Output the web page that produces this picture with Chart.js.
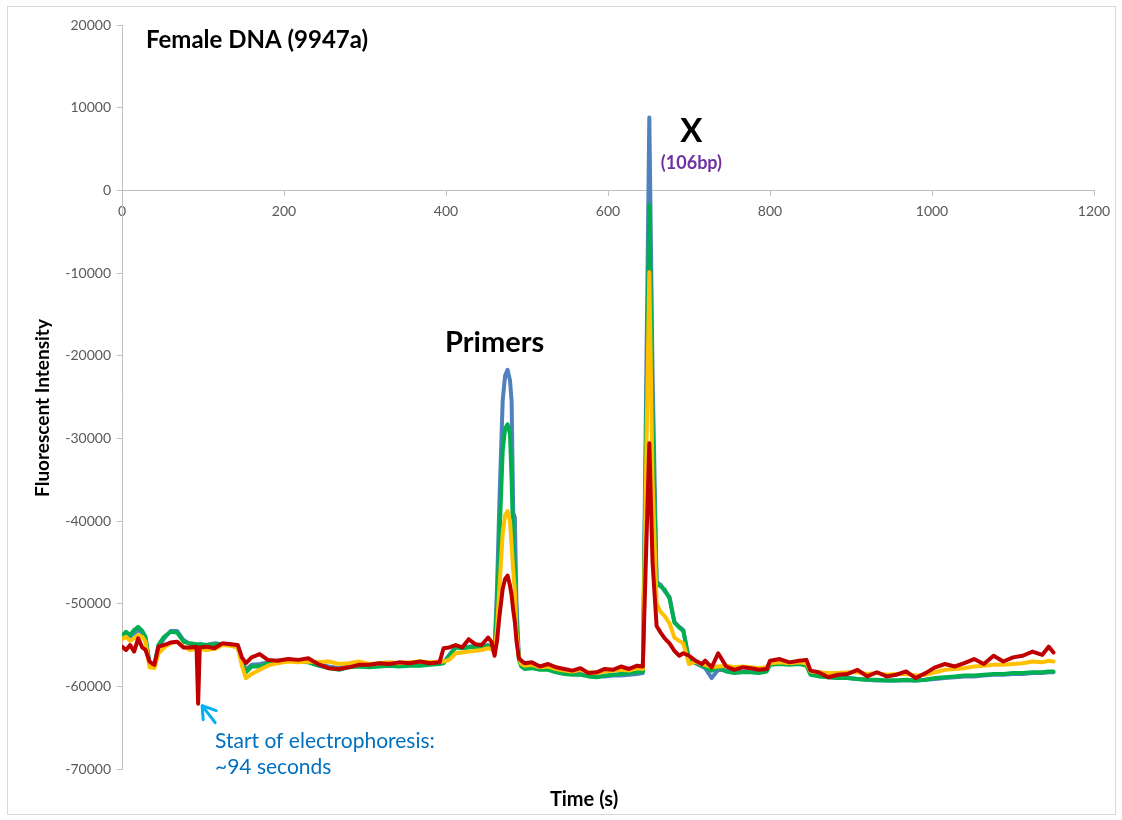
<!DOCTYPE html>
<html>
<head>
<meta charset="utf-8">
<script src="https://cdn.jsdelivr.net/npm/chart.js@4.4.1/dist/chart.umd.min.js"></script>
<style>
  body { margin: 0; background: #fff; }
</style>
</head>
<body>
<canvas id="myChart" width="1122" height="820"></canvas>
<script>
  // time in seconds, shared by all four traces
  let time = [
    0, 5, 10, 15, 20, 25, 29, 34, 40, 45, 52, 60, 68, 76, 84, 92, 94, 96, 104, 114, 124, 134, 143, 148, 153, 160,
    170, 180, 192, 205, 218, 230, 242, 255, 268, 280, 292, 305, 318, 330, 342, 355, 368, 380, 392, 397,
    404, 412, 420, 428, 436, 444, 452, 456, 460, 463, 466, 470, 473, 476, 479, 481, 483, 485, 487, 490, 493, 497,
    506, 516, 526, 536, 546, 556, 566, 576, 586, 596, 606, 616, 626, 636, 643,
    647, 651, 655, 660, 665, 670, 676, 682, 688, 693, 700, 708, 716, 720, 728, 736,
    746, 756, 766, 776, 786, 796, 800, 812, 824, 836, 845, 850, 860, 872, 884, 896, 908, 920, 932, 944, 956, 968, 980, 992,
    1004, 1016, 1028, 1040, 1052, 1064, 1076, 1088, 1100, 1112, 1124, 1136, 1144, 1150
  ];
  let red = [
    -55200, -55600, -55000, -55800, -54200, -55300, -55600, -57000, -57400, -55200, -55000, -54700, -54600, -55300, -55300, -55200, -62100, -55300, -55200, -55400, -54800, -54900, -55000, -56500, -57200, -56500,
    -56100, -56800, -56900, -56700, -56800, -56600, -57300, -57800, -57900, -57700, -57400, -57400, -57200, -57300, -57100, -57200, -57000, -57200, -57100, -55400,
    -55300, -55000, -55300, -54300, -54900, -55000, -54100, -54600, -56300, -54500, -51500, -48200, -47000, -46600, -47800, -49000, -50800, -52200, -54500, -56600, -56900, -57200,
    -57100, -57600, -57300, -57700, -57900, -58100, -57800, -58400, -58300, -57900, -58000, -57600, -57900, -57500, -57600,
    -44000, -30600, -45000, -52700, -53500, -54200, -54800, -55700, -56300, -56000, -56300, -56900, -57300, -56900, -57700, -56000,
    -57600, -58000, -57700, -57800, -58000, -57900, -56900, -56700, -57100, -56900, -56800, -58100, -58300, -58900, -58600, -58500, -58000, -58800, -58300, -58800, -58600, -58200, -59000, -58400,
    -57700, -57300, -57600, -57200, -56700, -57300, -56300, -57000, -56500, -56300, -55800, -56200, -55200, -55900
  ];
  let yellow = [
    -54300, -54000, -54500, -54200, -53800, -54000, -54600, -57700, -57800, -56000, -55300, -54800, -54600, -55200, -55600, -55500, -55600, -55500, -55600, -55500, -55000, -55100, -55300, -57500, -59000, -58500,
    -58000, -57500, -57200, -57000, -57100, -57000, -57100, -57000, -57300, -57200, -57000, -57300, -57200, -57100, -57200, -57100, -57000, -57100, -57000, -57000,
    -56800, -56000, -55900, -55800, -55700, -55600, -55400, -55500, -55900, -53000, -48000, -41500, -39300, -38800, -40000, -43000, -46000, -48500, -53500, -56500, -57300, -57500,
    -57400, -57700, -57600, -57900, -58100, -58200, -58000, -58300, -58400, -58200, -58100, -58000, -58100, -57800, -57900,
    -34000, -9900, -35000, -50000, -51000, -51500, -52400, -54100, -54500, -54800, -57300, -57000, -57300, -57400, -57700, -57600,
    -57500, -57700, -57600, -57700, -57800, -57700, -57200, -57100, -57200, -57100, -57200, -58200, -58300, -58400, -58400, -58300, -58300, -58500, -58400, -58600, -58500, -58500, -58700, -58600,
    -58300, -58000, -57900, -57800, -57600, -57500, -57400, -57400, -57300, -57200, -57000, -57100, -56900, -57000
  ];
  let green = [
    -53900, -53400, -53800, -53200, -52800, -53300, -54000, -57200, -57400, -55000, -54000, -53400, -53500, -54600, -54800, -54900, -55000, -54900, -55000, -54900, -54900, -55000, -55300, -57000, -58300, -57600,
    -57600, -57200, -57000, -56900, -57000, -57100, -57500, -57800, -58000, -57700, -57600, -57700, -57600, -57500, -57600, -57500, -57500, -57400, -57300, -57200,
    -56300, -55300, -55400, -55300, -55200, -55300, -55100, -55300, -55500, -50000, -42000, -31500, -28800, -28300, -29500, -35000, -42500, -45500, -52000, -56800, -57600, -57900,
    -57800, -58000, -58000, -58300, -58500, -58600, -58600, -58800, -58900, -58700, -58600, -58500, -58400, -58300, -58200,
    -30000, -1800, -28000, -47600, -47900, -48300, -49400, -52300, -52900, -53300, -56900, -57100, -57500, -57700, -58100, -57700,
    -58200, -58400, -58300, -58300, -58400, -58200, -57400, -57300, -57400, -57300, -57500, -58600, -58800, -58900, -59000, -59000, -59100, -59200, -59200, -59300, -59300, -59200, -59300, -59200,
    -59000, -58900, -58800, -58700, -58700, -58600, -58500, -58500, -58400, -58400, -58300, -58300, -58200, -58200
  ];
  let blue = [
    -54000, -53700, -54000, -53600, -53200, -53500, -54200, -57300, -57500, -55300, -54200, -53300, -53300, -54400, -54900, -54900, -55000, -54900, -55000, -54800, -54900, -54900, -55200, -56900, -58000, -57400,
    -57300, -57100, -56900, -56800, -56900, -56900, -57300, -57600, -57800, -57600, -57500, -57600, -57400, -57400, -57500, -57400, -57300, -57300, -57200, -57100,
    -56200, -55200, -55300, -55200, -55100, -55200, -55000, -55300, -55700, -48000, -37500, -25400, -22400, -21700, -23000, -25500, -39000, -39600, -50000, -56500, -57300, -57700,
    -57600, -57900, -57900, -58200, -58400, -58500, -58500, -58700, -58800, -58800, -58700, -58700, -58600, -58500, -58400,
    -25000, 8800, -22000, -47400, -47700, -48500, -49200, -52200, -52800, -53200, -56800, -57200, -57600, -57800, -59000, -58000,
    -58100, -58300, -58200, -58200, -58300, -58100, -57300, -57200, -57300, -57200, -57400, -58500, -58700, -58900, -59000, -59000, -59100, -59200, -59300, -59300, -59300, -59300, -59300, -59200,
    -59100, -59000, -58900, -58800, -58800, -58700, -58600, -58600, -58500, -58500, -58400, -58400, -58300, -58300
  ];
  let xTicks = [0, 200, 400, 600, 800, 1000, 1200];
  let yTicks = [20000, 10000, 0, -10000, -20000, -30000, -40000, -50000, -60000, -70000];

  const font = 'Lato, "Liberation Sans", sans-serif';

  function points(values) {
    return values.map((v, i) => ({x: time[i], y: v}));
  }
  function trace(label, values, color) {
    return {
      label: label,
      data: points(values),
      borderColor: color,
      backgroundColor: color,
      borderWidth: 4,
      pointRadius: 0,
      tension: 0,
      borderJoinStyle: 'round',
      borderCapStyle: 'round',
      fill: false
    };
  }

  const decor = {
    id: 'decor',
    beforeDraw(chart) {
      const ctx = chart.ctx;
      ctx.save();
      ctx.fillStyle = '#fff';
      ctx.fillRect(0, 0, chart.width, chart.height);
      ctx.strokeStyle = '#D9D9D9';
      ctx.lineWidth = 1;
      ctx.strokeRect(7.5, 6.5, 1108, 808);
      ctx.restore();
    },
    afterDraw(chart) {
      const ctx = chart.ctx;
      const x = chart.scales.x, y = chart.scales.y;
      ctx.save();
      ctx.textBaseline = 'alphabetic';

      ctx.fillStyle = '#000';
      ctx.textAlign = 'left';
      ctx.font = 'bold 24px ' + font;
      ctx.fillText('Female DNA (9947a)', 146, 48);

      ctx.textAlign = 'center';
      ctx.font = 'bold 29px ' + font;
      ctx.fillText('Primers', x.getPixelForValue(460), y.getPixelForValue(-19500));

      ctx.font = 'bold 33px ' + font;
      ctx.fillText('X', x.getPixelForValue(703), y.getPixelForValue(5800));
      ctx.fillStyle = '#7030A0';
      ctx.font = 'bold 18px ' + font;
      ctx.fillText('(106bp)', x.getPixelForValue(703), y.getPixelForValue(2600));

      // axis titles
      ctx.fillStyle = '#000';
      ctx.font = 'bold 20px ' + font;
      ctx.fillText('Time (s)', 584, 806);
      ctx.save();
      ctx.translate(49, 408);
      ctx.rotate(-Math.PI / 2);
      ctx.font = 'bold 19px ' + font;
      ctx.fillText('Fluorescent Intensity', 0, 0);
      ctx.restore();

      // electrophoresis note with arrow
      const tipX = x.getPixelForValue(94) + 4;
      const tipY = y.getPixelForValue(-62100) + 2;
      ctx.strokeStyle = '#00B0F0';
      ctx.lineWidth = 3;
      ctx.lineCap = 'round';
      ctx.lineJoin = 'round';
      ctx.beginPath();
      ctx.moveTo(tipX + 13, tipY + 17);
      ctx.lineTo(tipX, tipY);
      ctx.moveTo(tipX + 14, tipY + 5);
      ctx.lineTo(tipX, tipY);
      ctx.lineTo(tipX + 1, tipY + 14);
      ctx.stroke();

      ctx.fillStyle = '#0070C0';
      ctx.textAlign = 'left';
      ctx.font = '21px ' + font;
      ctx.fillText('Start of electrophoresis:', 215, 748);
      ctx.fillText('~94 seconds', 215, 774);
      ctx.restore();
    }
  };

  new Chart(document.getElementById('myChart'), {
    type: 'line',
    data: {
      datasets: [
        trace('Red', red, '#C00000'),
        trace('Yellow', yellow, '#FFC000'),
        trace('Green', green, '#00B050'),
        trace('Blue', blue, '#4F81BD')
      ]
    },
    options: {
      responsive: false,
      animation: false,
      layout: {padding: {left: 0, top: 25, right: 28, bottom: 51}},
      plugins: {legend: {display: false}, tooltip: {enabled: false}},
      scales: {
        x: {
          type: 'linear',
          position: {y: 0},
          min: 0,
          max: 1200,
          afterBuildTicks: s => { s.ticks = xTicks.map(v => ({value: v})); },
          ticks: {color: '#595959', font: {family: font, size: 14}, padding: 8, maxRotation: 0,
                  callback: v => String(v)},
          grid: {drawOnChartArea: false, drawTicks: true, tickLength: 5, color: '#BFBFBF'},
          border: {color: '#BFBFBF', width: 1}
        },
        y: {
          type: 'linear',
          min: -70000,
          max: 20000,
          afterBuildTicks: s => { s.ticks = yTicks.map(v => ({value: v})); },
          afterFit: s => { s.width = 122; },
          ticks: {color: '#595959', font: {family: font, size: 14}, padding: 6,
                  callback: v => String(v)},
          grid: {drawOnChartArea: false, drawTicks: true, tickLength: 5, color: '#BFBFBF'},
          border: {color: '#BFBFBF', width: 1}
        }
      }
    },
    plugins: [decor]
  });
</script>
</body>
</html>
